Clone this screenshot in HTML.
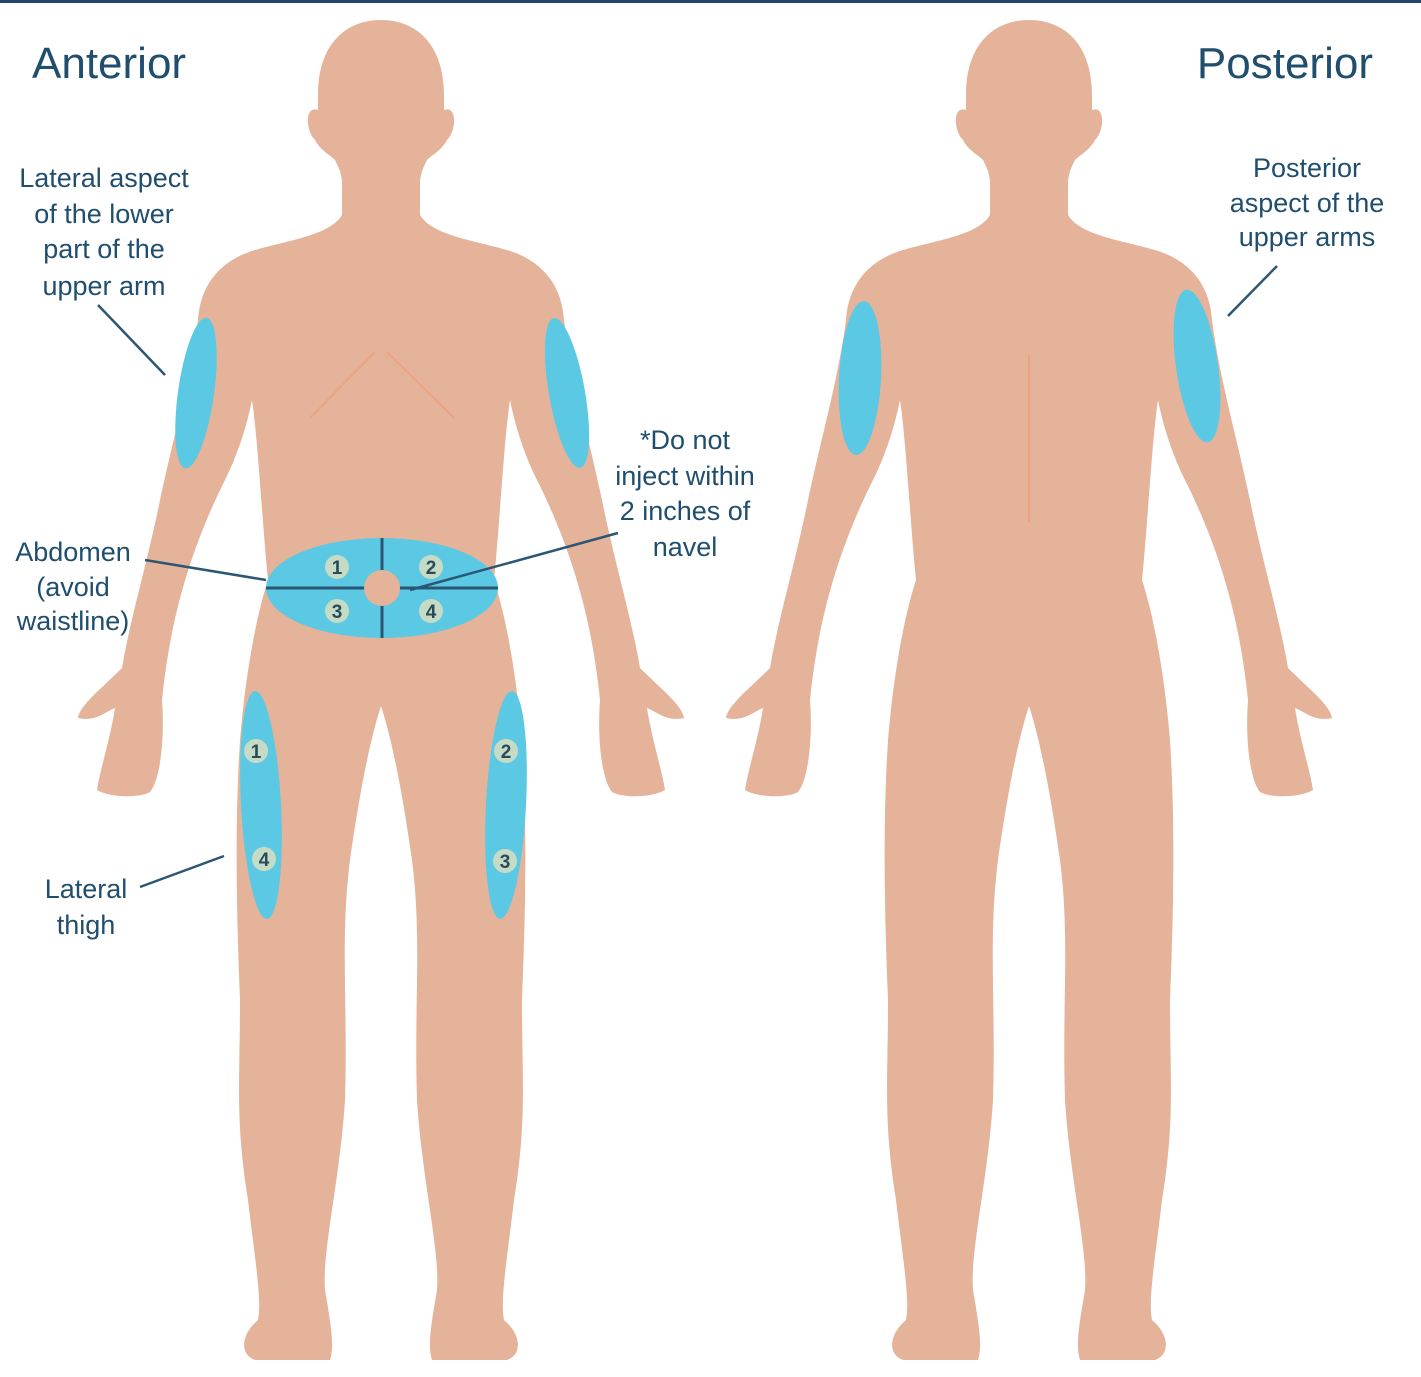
<!DOCTYPE html>
<html><head><meta charset="utf-8"><style>
html,body{margin:0;padding:0;background:#fff}
svg{display:block}
text{font-family:"Liberation Sans",sans-serif;fill:#1f4e6e}
.l{font-size:27px}
.n{font-size:19px;font-weight:bold;fill:#2a4a5a}
</style></head><body>
<svg width="1421" height="1377" viewBox="0 0 1421 1377">
<rect x="0" y="0" width="1421" height="3" fill="#23456e"/>
<defs>
<path id="half" d="M381,20 C345,20 318,45 318,95 L318,110 C305,105 305,130 315,140 C320,150 330,155 335,160 C340,170 342,175 342,185 L342,215 C330,235 290,240 255,250 C215,262 200,290 198,320 C190,380 175,430 160,500 C148,560 130,620 122,668 C100,690 80,705 78,718 C95,722 105,712 115,708 C110,740 100,770 97,790 C110,798 140,798 150,792 C160,780 165,740 162,700 C170,620 190,550 225,480 C240,450 248,420 252,400 C258,440 262,520 268,580 C255,620 245,680 240,740 C235,820 236,900 240,1000 C240,1080 235,1120 248,1200 C255,1260 262,1300 258,1320 C240,1335 240,1355 255,1360 L330,1360 C335,1345 330,1320 325,1290 C322,1250 340,1180 345,1100 C348,1000 340,940 350,860 C360,790 370,740 381,706 Z"/>
<g id="body" fill="#e4b39a">
<use href="#half"/>
<use href="#half" transform="translate(762,0) scale(-1,1)"/>
</g>
</defs>
<use href="#body"/>
<use href="#body" transform="translate(648,0)"/>
<path d="M375,352 L310,418 M387,352 L454,418" stroke="#eda282" stroke-width="2" fill="none"/>
<path d="M1029,355 L1029,522" stroke="#eda282" stroke-width="2"/>
<g fill="#5bc8e4">
<ellipse cx="196" cy="393" rx="18" ry="76" transform="rotate(8 196 393)"/>
<ellipse cx="567" cy="393" rx="18" ry="76" transform="rotate(-10 567 393)"/>
<ellipse cx="860" cy="378" rx="21" ry="77" transform="rotate(3 860 378)"/>
<ellipse cx="1197" cy="366" rx="21" ry="77" transform="rotate(-8 1197 366)"/>
<ellipse cx="261" cy="805" rx="20" ry="114" transform="rotate(-3 261 805)"/>
<ellipse cx="506" cy="805" rx="20" ry="114" transform="rotate(3 506 805)"/>
<ellipse cx="382" cy="588" rx="116" ry="50"/>
</g>
<path d="M266,588 L498,588 M382,538 L382,638" stroke="#2b5674" stroke-width="3"/>
<circle cx="382" cy="588" r="18" fill="#e4b39a"/>
<g fill="#c5dbc6">
<circle cx="337" cy="567" r="12"/><circle cx="431" cy="567" r="12"/>
<circle cx="337" cy="611" r="12"/><circle cx="431" cy="611" r="12"/>
<circle cx="256" cy="751" r="12"/><circle cx="264" cy="859" r="12"/>
<circle cx="506" cy="751" r="12"/><circle cx="505" cy="861" r="12"/>
</g>
<g class="n" text-anchor="middle">
<text x="337" y="574" class="n">1</text><text x="431" y="574" class="n">2</text>
<text x="337" y="618" class="n">3</text><text x="431" y="618" class="n">4</text>
<text x="256" y="758" class="n">1</text><text x="264" y="866" class="n">4</text>
<text x="506" y="758" class="n">2</text><text x="505" y="868" class="n">3</text>
</g>
<g stroke="#2b5674" stroke-width="2.5" fill="none">
<path d="M98,305 L165,375"/>
<path d="M145,560 L266,580"/>
<path d="M618,533 L410,590"/>
<path d="M140,887 L224,856"/>
<path d="M1277,266 L1228,316"/>
</g>
<text x="32" y="78" style="font-size:44px">Anterior</text>
<text x="1373" y="78" text-anchor="end" style="font-size:44px">Posterior</text>
<g class="l" text-anchor="middle">
<text x="104" y="187">Lateral aspect</text>
<text x="104" y="223">of the lower</text>
<text x="104" y="258">part of the</text>
<text x="104" y="295">upper arm</text>
<text x="1307" y="177">Posterior</text>
<text x="1307" y="212">aspect of the</text>
<text x="1307" y="246">upper arms</text>
<text x="685" y="449">*Do not</text>
<text x="685" y="485">inject within</text>
<text x="685" y="520">2 inches of</text>
<text x="685" y="556">navel</text>
<text x="73" y="561">Abdomen</text>
<text x="73" y="596">(avoid</text>
<text x="73" y="630">waistline)</text>
<text x="86" y="898">Lateral</text>
<text x="86" y="934">thigh</text>
</g>
</svg>
</body></html>
